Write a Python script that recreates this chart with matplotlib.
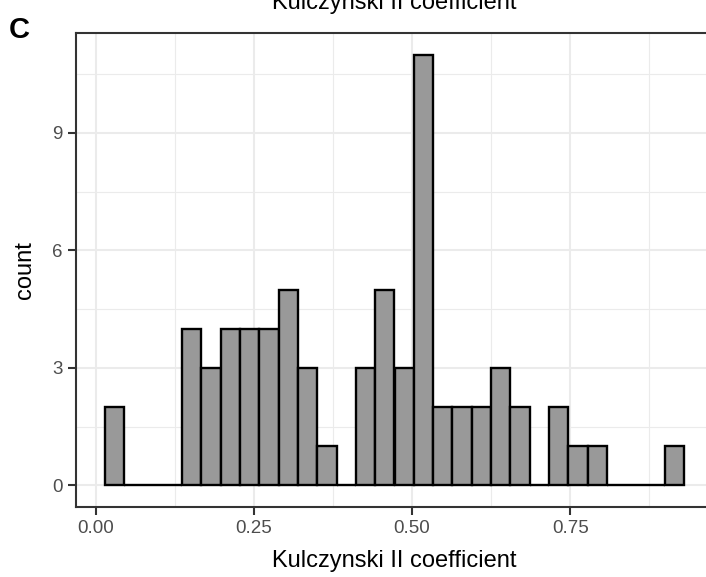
import numpy as np
import matplotlib
matplotlib.use("Agg")
import matplotlib.pyplot as plt

plt.rcParams["font.family"] = ["Liberation Sans", "DejaVu Sans"]

# ── histogram bins (30 bins) and counts ──────────────────────────────────────
bin_start = 0.0147
bin_width = 0.0305
counts = [2, 0, 0, 0, 4, 3, 4, 4, 4, 5,
          3, 1, 0, 3, 5, 3, 11, 2, 2, 2,
          3, 2, 0, 2, 1, 1, 0, 0, 0, 1]
x_ticks = [0.00, 0.25, 0.50, 0.75]
x_tick_labels = ["0.00", "0.25", "0.50", "0.75"]
y_ticks = [0, 3, 6, 9]

left_edges = bin_start + bin_width * np.arange(len(counts))

W, H = 706, 577
fig = plt.figure(figsize=(W / 100, H / 100), dpi=100)
# panel spans past the right edge of the figure (cropped panel)
px_l, px_r, px_t, px_b = 76, 713, 33, 507
ax = fig.add_axes([px_l / W, 1 - px_b / H, (px_r - px_l) / W, (px_b - px_t) / H])

ax.bar(left_edges, counts, width=bin_width, align="edge",
       facecolor="#999999", edgecolor="black", linewidth=1.7, zorder=3)

lo, hi = left_edges[0], left_edges[-1] + bin_width
pad = 0.05 * (hi - lo)
ax.set_xlim(lo - pad, hi + pad)
ax.set_ylim(-0.55, 11.55)

ax.set_xticks(x_ticks)
ax.set_xticklabels(x_tick_labels)
ax.set_yticks(y_ticks)
ax.set_xticks(np.arange(0.125, 1.0, 0.25), minor=True)
ax.set_yticks([1.5, 4.5, 7.5, 10.5], minor=True)

ax.grid(which="major", color="#EBEBEB", linewidth=1.5, zorder=0)
ax.grid(which="minor", color="#EBEBEB", linewidth=0.8, zorder=0)
ax.set_axisbelow(True)

for s in ax.spines.values():
    s.set_color("#333333")
    s.set_linewidth(1.5)

ax.tick_params(which="major", length=5.5, width=1.5, color="#333333",
               labelsize=13.5, labelcolor="#4D4D4D", pad=4)
ax.tick_params(which="minor", length=0)

ax.set_xlabel("Kulczynski II coefficient", fontsize=17, labelpad=9)
ax.set_ylabel("count", fontsize=17, labelpad=12)

# title sits mostly above the top edge
fig.text((px_l + px_r) / 2 / W, 1 - 9 / H, "Kulczynski II coefficient",
         ha="center", va="baseline", fontsize=17)
fig.text(9 / W, 1 - 38 / H, "C", ha="left", va="baseline",
         fontsize=21, fontweight="bold")

fig.savefig("out.png", dpi=100)
